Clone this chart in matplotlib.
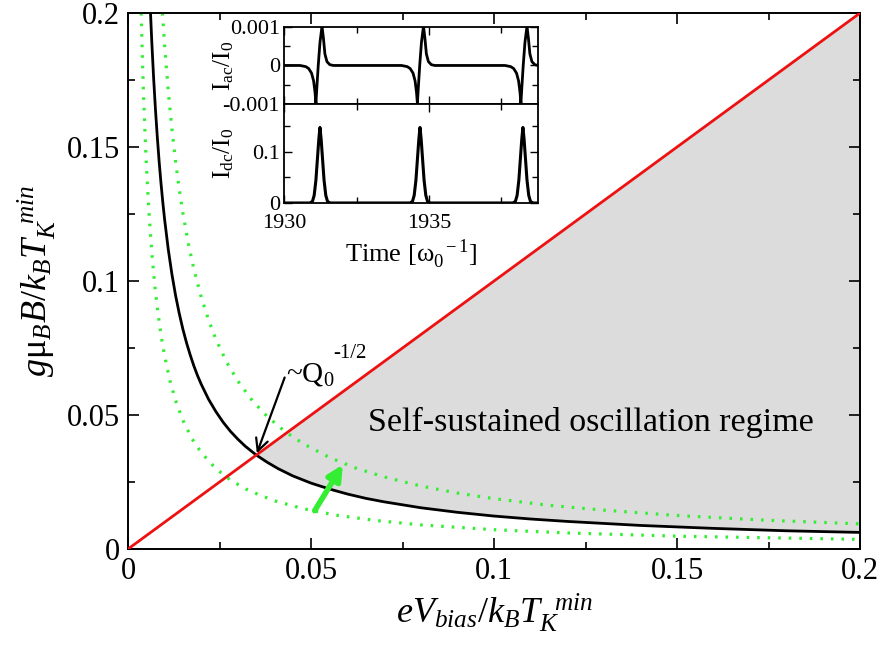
import numpy as np
import matplotlib
matplotlib.use("Agg")
import matplotlib.pyplot as plt
from matplotlib.ticker import MultipleLocator, FixedLocator, FixedFormatter

plt.rcParams['font.family'] = ['Liberation Serif', 'DejaVu Serif']
plt.rcParams['mathtext.fontset'] = 'custom'
plt.rcParams['mathtext.rm'] = 'Liberation Serif'
plt.rcParams['mathtext.it'] = 'Liberation Serif:italic'
plt.rcParams['mathtext.bf'] = 'Liberation Serif:bold'

# ---------------- main-panel data ----------------
red_x = [0.0, 0.2]
red_y = [0.0, 0.2]

black_x = [0.00615, 0.0065, 0.007, 0.0075, 0.008, 0.0085, 0.009, 0.0095, 0.010, 0.011,
           0.012, 0.013, 0.014, 0.015, 0.016, 0.017, 0.018, 0.019, 0.020, 0.022,
           0.024, 0.026, 0.028, 0.030, 0.032, 0.035, 0.038, 0.041, 0.045, 0.050,
           0.055, 0.060, 0.065, 0.070, 0.080, 0.090, 0.100, 0.110, 0.120, 0.140,
           0.160, 0.180, 0.200]
black_y = [0.2000, 0.1892, 0.1757, 0.1640, 0.1538, 0.1447, 0.1367, 0.1295, 0.1230, 0.1118,
           0.1025, 0.0946, 0.0879, 0.0820, 0.0769, 0.0724, 0.0683, 0.0647, 0.0615, 0.0559,
           0.0513, 0.0473, 0.0439, 0.0410, 0.0384, 0.0351, 0.0324, 0.0300, 0.0273, 0.0246,
           0.0224, 0.0205, 0.0189, 0.0176, 0.0154, 0.0137, 0.0123, 0.0112, 0.0103, 0.0088,
           0.0077, 0.0068, 0.0062]

green_up_x = [0.0094, 0.0100, 0.0110, 0.0120, 0.0130, 0.0140, 0.0150, 0.0165, 0.018, 0.020,
              0.022, 0.024, 0.027, 0.030, 0.034, 0.038, 0.043, 0.048, 0.055, 0.062,
              0.070, 0.080, 0.090, 0.100, 0.115, 0.130, 0.150, 0.175, 0.200]
green_up_y = [0.200, 0.188, 0.1709, 0.1567, 0.1446, 0.1343, 0.1253, 0.1139, 0.1044, 0.0940,
              0.0855, 0.0783, 0.0696, 0.0627, 0.0553, 0.0495, 0.0437, 0.0392, 0.0342, 0.0303,
              0.0269, 0.0235, 0.0209, 0.0188, 0.0163, 0.0145, 0.0125, 0.0107, 0.0094]

green_lo_x = [0.0036, 0.0039, 0.0042, 0.0046, 0.005, 0.0055, 0.006, 0.0066, 0.0073, 0.008,
              0.009, 0.010, 0.0115, 0.013, 0.015, 0.0175, 0.020, 0.024, 0.028, 0.033,
              0.040, 0.048, 0.057, 0.068, 0.080, 0.100, 0.120, 0.150, 0.200]
green_lo_y = [0.200, 0.1846, 0.1714, 0.1565, 0.144, 0.1309, 0.120, 0.1091, 0.0986, 0.090,
              0.080, 0.072, 0.0626, 0.0554, 0.048, 0.0411, 0.036, 0.030, 0.0257, 0.0218,
              0.018, 0.015, 0.0126, 0.0106, 0.009, 0.0072, 0.006, 0.0048, 0.0036]

main_ticks = [0.0, 0.05, 0.1, 0.15, 0.2]
main_tick_labels = ['0', '0.05', '0.1', '0.15', '0.2']

# ---------------- inset data ----------------
ac_t = [1930.00, 1930.55, 1930.75, 1930.85, 1930.95, 1931.02, 1931.07, 1931.10, 1931.13,
        1931.18, 1931.24, 1931.31, 1931.36, 1931.41, 1931.48, 1931.58, 1931.70,
        1934.05, 1934.25, 1934.35, 1934.45, 1934.52, 1934.57, 1934.60, 1934.63,
        1934.68, 1934.74, 1934.81, 1934.86, 1934.91, 1934.98, 1935.08, 1935.20,
        1937.62, 1937.82, 1937.92, 1938.02, 1938.09, 1938.14, 1938.17, 1938.20,
        1938.25, 1938.31, 1938.38, 1938.43, 1938.48, 1938.55, 1938.65, 1938.76]
ac_v = [0.0, 0.0, -0.00003, -0.00008, -0.0002, -0.0004, -0.0007, -0.00098, -0.0006,
        0.0, 0.0006, 0.00102, 0.0007, 0.0003, 0.0001, 0.00002, 0.0,
        0.0, -0.00003, -0.00008, -0.0002, -0.0004, -0.0007, -0.00098, -0.0006,
        0.0, 0.0006, 0.00102, 0.0007, 0.0003, 0.0001, 0.00002, 0.0,
        0.0, -0.00003, -0.00008, -0.0002, -0.0004, -0.0007, -0.00098, -0.0006,
        0.0, 0.0006, 0.00102, 0.0007, 0.0003, 0.0001, 0.00002, 0.0]

dc_t = [1930.00, 1930.89, 1930.98, 1931.04, 1931.10, 1931.15, 1931.20, 1931.24,
        1931.28, 1931.33, 1931.38, 1931.44, 1931.50, 1931.59,
        1934.34, 1934.43, 1934.49, 1934.55, 1934.60, 1934.65, 1934.69,
        1934.73, 1934.78, 1934.83, 1934.89, 1934.95, 1935.04,
        1937.89, 1937.98, 1938.04, 1938.10, 1938.15, 1938.20, 1938.24,
        1938.28, 1938.33, 1938.38, 1938.44, 1938.50, 1938.59, 1938.76]
dc_v = [0.0, 0.0, 0.003, 0.015, 0.045, 0.085, 0.125, 0.148,
        0.125, 0.085, 0.045, 0.015, 0.003, 0.0,
        0.0, 0.003, 0.015, 0.045, 0.085, 0.125, 0.148,
        0.125, 0.085, 0.045, 0.015, 0.003, 0.0,
        0.0, 0.003, 0.015, 0.045, 0.085, 0.125, 0.148,
        0.125, 0.085, 0.045, 0.015, 0.003, 0.0, 0.0]

ac_ticks = [-0.001, 0.0, 0.001]
ac_tick_labels = ['-0.001', '0', '0.001']
dc_ticks = [0.0, 0.1]
dc_tick_labels = ['0', '0.1']
time_ticks = [1930, 1935]
time_tick_labels = ['1930', '1935']

# ---------------- figure ----------------
fig = plt.figure(figsize=(8.84, 6.45), dpi=100)
ax = fig.add_axes([0.1448, 0.1488, 0.8281, 0.8310])

bx = np.array(black_x)
by = np.array(black_y)
mask = bx >= 0.035
upper = np.interp(bx[mask], red_x, red_y)
ax.fill_between(bx[mask], by[mask], upper, color='#dcdcdc', lw=0, zorder=1)

green = '#33ee33'
ax.plot(green_up_x, green_up_y, color=green, lw=2.3, ls=(0, (0.8, 2.5)),
        dash_capstyle='butt', zorder=2)
ax.plot(green_lo_x, green_lo_y, color=green, lw=2.3, ls=(0, (0.8, 2.5)),
        dash_capstyle='butt', zorder=2)
ax.plot(black_x, black_y, color='black', lw=2.0, zorder=3)
ax.plot(red_x, red_y, color='#ee1111', lw=2.0, zorder=3)

ax.set_xlim(0, 0.2)
ax.set_ylim(0, 0.2)
ax.xaxis.set_major_locator(FixedLocator(main_ticks))
ax.xaxis.set_major_formatter(FixedFormatter(main_tick_labels))
ax.yaxis.set_major_locator(FixedLocator(main_ticks))
ax.yaxis.set_major_formatter(FixedFormatter(main_tick_labels))
ax.xaxis.set_minor_locator(MultipleLocator(0.025))
ax.yaxis.set_minor_locator(MultipleLocator(0.025))
ax.tick_params(which='both', direction='in', top=True, right=True, width=1.2)
ax.tick_params(which='major', length=8, labelsize=22, pad=6)
ax.tick_params(which='minor', length=5)
for s in ax.spines.values():
    s.set_linewidth(1.4)

ax.set_xlabel(r'$eV_{bias}/k_BT_K^{\ \ min}$', fontsize=26, labelpad=4)
ax.set_ylabel(r'$g\mathrm{\mu}_BB/k_BT_K^{\ \ min}$', fontsize=26, labelpad=6)

ax.annotate('', xy=(0.0352, 0.0357), xytext=(0.0428, 0.0640),
            arrowprops=dict(arrowstyle='->', color='black', lw=1.6,
                            mutation_scale=22, shrinkA=0, shrinkB=0), zorder=5)
ax.text(0.0433, 0.0625, r'~Q$_0$', fontsize=21, ha='left', va='baseline')
ax.text(0.0560, 0.0712, '-1/2', fontsize=15, ha='left', va='baseline')

ax.annotate('', xy=(0.0587, 0.0315), xytext=(0.0510, 0.0143),
            arrowprops=dict(arrowstyle='-|>', color=green, lw=4,
                            mutation_scale=22, shrinkA=0, shrinkB=0), zorder=5)

ax.text(0.0656, 0.0440, 'Self-sustained oscillation regime', fontsize=24.5,
        ha='left', va='baseline', zorder=4)

# ---------------- inset ----------------
ins_left, ins_w = 0.3213, 0.2873
ax_ac = fig.add_axes([ins_left, 0.8388, ins_w, 0.1194])
ax_dc = fig.add_axes([ins_left, 0.6853, ins_w, 0.1535], sharex=ax_ac)

ax_ac.plot(ac_t, ac_v, color='black', lw=2.0)
ax_dc.plot(dc_t, dc_v, color='black', lw=2.2)

ax_ac.set_xlim(1930, 1938.76)
ax_ac.set_ylim(-0.001, 0.001)
ax_dc.set_ylim(0, 0.194)

ax_ac.yaxis.set_major_locator(FixedLocator(ac_ticks))
ax_ac.yaxis.set_major_formatter(FixedFormatter(ac_tick_labels))
ax_ac.yaxis.set_minor_locator(MultipleLocator(0.0005))
ax_dc.yaxis.set_major_locator(FixedLocator(dc_ticks))
ax_dc.yaxis.set_major_formatter(FixedFormatter(dc_tick_labels))
ax_dc.yaxis.set_minor_locator(MultipleLocator(0.05))
ax_dc.xaxis.set_major_locator(FixedLocator(time_ticks))
ax_dc.xaxis.set_major_formatter(FixedFormatter(time_tick_labels))
ax_dc.xaxis.set_minor_locator(MultipleLocator(2.5))

for a in (ax_ac, ax_dc):
    a.set_facecolor('white')
    a.tick_params(which='both', direction='in', top=True, right=True, width=1.0)
    a.tick_params(which='major', length=6, labelsize=16, pad=3)
    a.tick_params(which='minor', length=4)
    for s in a.spines.values():
        s.set_linewidth(1.3)
ax_ac.tick_params(labelbottom=False)
ax_dc.tick_params(axis='x', pad=8)

ax_ac.set_ylabel(r'I$_{\mathrm{ac}}$/I$_0$', fontsize=18)
ax_dc.set_ylabel(r'I$_{\mathrm{dc}}$/I$_0$', fontsize=18)
ax_dc.set_xlabel(r'Time [$\mathrm{\omega}_0^{\ \ -1}$]', fontsize=19, labelpad=3)
ax_ac.yaxis.set_label_coords(-0.19, 0.5)
ax_dc.yaxis.set_label_coords(-0.19, 0.5)

fig.savefig('out.png', dpi=100)
